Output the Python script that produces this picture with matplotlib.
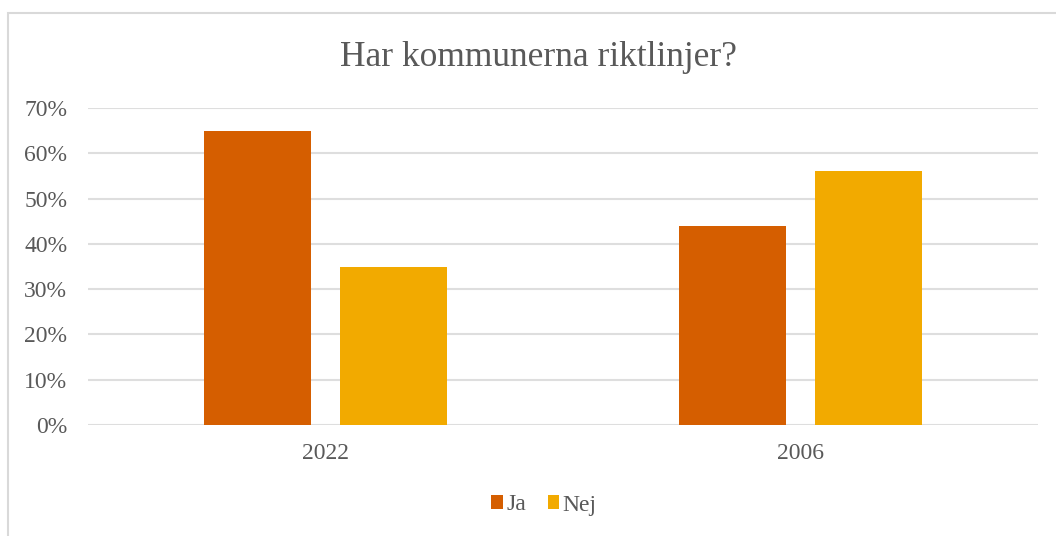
import matplotlib.pyplot as plt
from matplotlib.patches import Rectangle
from matplotlib.ticker import FuncFormatter
import numpy as np

categories = ['2022', '2006']
ja = [0.65, 0.44]
nej = [0.35, 0.56]

plt.rcParams['font.family'] = ['Liberation Serif', 'DejaVu Serif']
text_color = '#595959'

fig = plt.figure(figsize=(10.56, 5.36), dpi=100)
W, H = 1056, 536

# border (top and left visible, rest clipped)
fig.patches.append(Rectangle((8 / W, -0.1), 1.2, 1 - 13 / H + 0.1, transform=fig.transFigure,
                             fill=False, edgecolor='#D9D9D9', linewidth=1.5))

ax = fig.add_axes([88 / W, 1 - 425 / H, 950 / W, 317 / H])
x = np.arange(len(categories))
w = 0.225
off = 0.143
ax.bar(x - off, ja, w, color='#D55E00', label='Ja', zorder=3)
ax.bar(x + off, nej, w, color='#F2AA00', label='Nej', zorder=3)

ax.set_xlim(-0.5, 1.5)
ax.set_ylim(0, 0.7)
ax.set_yticks(np.arange(0, 0.71, 0.1))
ax.yaxis.set_major_formatter(FuncFormatter(lambda v, p: f'{v * 100:.0f}%'))
ax.set_xticks(x)
ax.set_xticklabels(categories)
ax.grid(axis='y', color='#DEDEDE', linewidth=1.5, zorder=0)
for s in ax.spines.values():
    s.set_visible(False)
ax.tick_params(length=0, labelsize=17, labelcolor=text_color)
ax.tick_params(axis='y', pad=15)
ax.tick_params(axis='x', pad=13)

fig.text(538 / W, 1 - 58 / H, 'Har kommunerna riktlinjer?', ha='center', va='center',
         fontsize=25.5, color=text_color)

fig.legend(loc='center', bbox_to_anchor=(544 / W, 1 - 505 / H), ncol=2, frameon=False,
           fontsize=17, labelcolor=text_color, handlelength=0.5, handleheight=0.5,
           handletextpad=0.15, columnspacing=0.9)

fig.savefig('out.png', dpi=100, facecolor='white')
